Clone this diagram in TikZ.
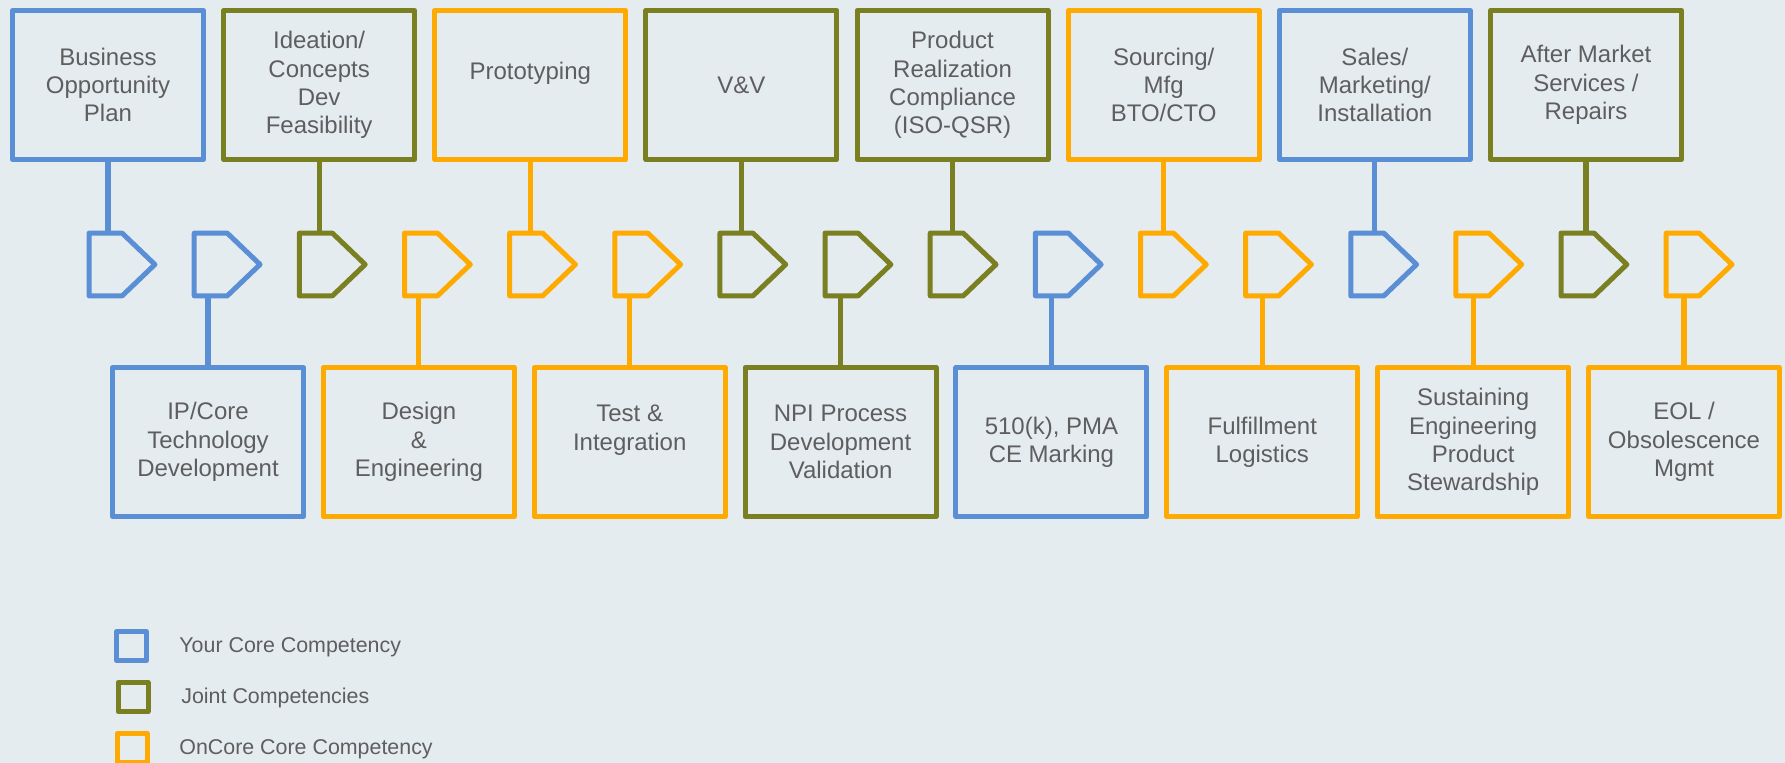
\documentclass[tikz,border=0pt]{standalone}
\usepackage{fontspec}
\setmainfont{Liberation Sans}
\usetikzlibrary{calc}
\definecolor{cblue}{HTML}{5A8FD6}
\definecolor{colive}{HTML}{7A7F22}
\definecolor{corange}{HTML}{FFAA00}
\definecolor{bgcol}{HTML}{E5ECF0}
\definecolor{txt}{HTML}{5E5E5E}
\begin{document}
\begin{tikzpicture}[x=0.5pt,y=-0.5pt,
  stage/.style={draw, line width=2.5pt, line join=round, minimum width=95.5pt,
    minimum height=74.5pt, inner sep=0pt, align=center, text=txt,
    font=\fontsize{12}{14.15}\selectfont},
  tag/.style={draw=none, minimum width=32.5pt, minimum height=31pt, inner sep=0pt},
  tagline/.style={line width=2.5pt, line join=round},
  link/.style={line width=2.6pt},
  key/.style={draw, line width=2.5pt, line join=round, minimum width=15pt,
    minimum height=14.5pt, inner sep=0pt},
  keytext/.style={anchor=base west, inner sep=0pt, text=txt,
    font=\fontsize{10.7}{12}\selectfont}]

% canvas
\fill[bgcol] (0,0) rectangle (1785,763);
\useasboundingbox (0,0) rectangle (1785,763);

% upper row of stages
\node[stage, draw=cblue]   (t1) at (108,85)     {Business\\Opportunity\\Plan};
\node[stage, draw=colive]  (t2) at (319.14,85)  {Ideation/\\Concepts\\Dev\\Feasibility};
\node[stage, draw=corange] (t3) at (530.28,85)  {Prototyping\\\mbox{}};
\node[stage, draw=colive]  (t4) at (741.42,85)  {V\&V};
\node[stage, draw=colive]  (t5) at (952.56,85)  {Product\\Realization\\Compliance\\(ISO-QSR)};
\node[stage, draw=corange] (t6) at (1163.7,85)  {Sourcing/\\Mfg\\BTO/CTO};
\node[stage, draw=cblue]   (t7) at (1374.84,85) {Sales/\\Marketing/\\Installation};
\node[stage, draw=colive]  (t8) at (1585.98,85) {After Market\\Services /\\Repairs};

% lower row of stages
\node[stage, draw=cblue]   (b1) at (208,442)     {IP/Core\\Technology\\Development};
\node[stage, draw=corange] (b2) at (418.86,442)  {Design\\\&\\Engineering};
\node[stage, draw=corange] (b3) at (629.72,442)  {Test \&\\Integration\\\mbox{}};
\node[stage, draw=colive]  (b4) at (840.58,442)  {NPI Process\\Development\\Validation};
\node[stage, draw=cblue]   (b5) at (1051.44,442) {510(k), PMA\\CE Marking};
\node[stage, draw=corange] (b6) at (1262.3,442)  {Fulfillment\\Logistics};
\node[stage, draw=corange] (b7) at (1473.16,442) {Sustaining\\Engineering\\Product\\Stewardship};
\node[stage, draw=corange] (b8) at (1684.02,442) {EOL /\\Obsolescence\\Mgmt};

% chevron tags along the middle line
\foreach \k/\c in {0/cblue,1/cblue,2/colive,3/corange,4/corange,5/corange,
                   6/colive,7/colive,8/colive,9/cblue,10/corange,11/corange,
                   12/cblue,13/corange,14/colive,15/corange}{
  \node[tag] (p\k) at ({122+105.14*\k},264.5) {};
  \draw[tagline, draw=\c] (p\k.north west) -- ++(33,0) -- (p\k.east)
    -- ($(p\k.south west)+(33,0)$) -- (p\k.south west) -- cycle;
}

% links from upper stages down to their tags
\draw[link, cblue]   (t1.south) -- (t1.south |- p0.north);
\draw[link, colive]  (t2.south) -- (t2.south |- p2.north);
\draw[link, corange] (t3.south) -- (t3.south |- p4.north);
\draw[link, colive]  (t4.south) -- (t4.south |- p6.north);
\draw[link, colive]  (t5.south) -- (t5.south |- p8.north);
\draw[link, corange] (t6.south) -- (t6.south |- p10.north);
\draw[link, cblue]   (t7.south) -- (t7.south |- p12.north);
\draw[link, colive]  (t8.south) -- (t8.south |- p14.north);

% links from lower stages up to their tags
\draw[link, cblue]   (b1.north) -- (b1.north |- p1.south);
\draw[link, corange] (b2.north) -- (b2.north |- p3.south);
\draw[link, corange] (b3.north) -- (b3.north |- p5.south);
\draw[link, colive]  (b4.north) -- (b4.north |- p7.south);
\draw[link, cblue]   (b5.north) -- (b5.north |- p9.south);
\draw[link, corange] (b6.north) -- (b6.north |- p11.south);
\draw[link, corange] (b7.north) -- (b7.north |- p13.south);
\draw[link, corange] (b8.north) -- (b8.north |- p15.south);

% legend
\node[key, draw=cblue]   (k1) at (131.5,646) {};
\node[key, draw=colive]  (k2) at (133,697)   {};
\node[key, draw=corange] (k3) at (132,748)   {};
\node[keytext] (l1) at (179,653) {Your Core Competency};
\node[keytext] (l2) at (181,704) {Joint Competencies};
\node[keytext] (l3) at (179,755) {OnCore Core Competency};
\end{tikzpicture}
\end{document}
